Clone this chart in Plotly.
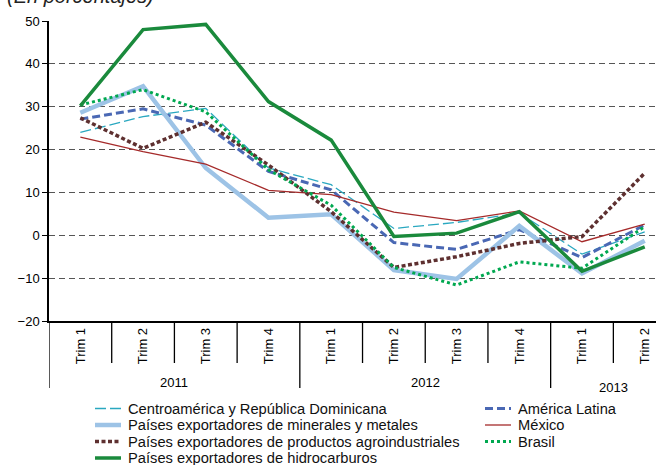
import plotly.graph_objects as go

# quarters 2011 T1 .. 2013 T2
trims = ["Trim 1", "Trim 2", "Trim 3", "Trim 4",
         "Trim 1", "Trim 2", "Trim 3", "Trim 4",
         "Trim 1", "Trim 2"]
years = ["2011", "2012", "2013"]
year_span = [(0, 3), (4, 7), (8, 9)]

centroamerica = [24.0, 27.7, 29.6, 15.7, 11.8, 1.6, 3.0, 5.2, -4.4, 0.8]
america_latina = [27.1, 29.5, 25.7, 14.9, 10.6, -1.7, -3.3, 1.3, -5.2, 2.4]
minerales = [28.6, 34.8, 15.7, 4.1, 4.9, -8.1, -10.2, 2.2, -8.9, -1.3]
mexico = [22.9, 19.5, 16.6, 10.5, 9.5, 5.4, 3.4, 5.7, -1.5, 2.6]
agro = [27.4, 20.3, 26.4, 16.4, 5.5, -7.5, -5.0, -1.9, -0.3, 14.5]
brasil = [30.4, 34.0, 28.8, 15.3, 7.0, -7.5, -11.6, -6.2, -7.7, 2.0]
hidrocarburos = [30.2, 48.0, 49.2, 31.2, 22.2, -0.3, 0.5, 5.5, -8.4, -2.7]

x = list(range(len(trims)))

W, H = 656, 465
L, R, T, B = 49, 0, 21, 144
PW, PH = W - L - R, H - T - B

def px(v):
    return (v - L) / PW

def py(v):
    return (H - B - v) / PH

fig = go.Figure()
shapes = []
annotations = []

# (name, values, color, width, dash, legend column, legend row)
series = [
    ("Centroamérica y República Dominicana", centroamerica, '#2aa8c0', 1.3, '11px,4px', 0, 0),
    ("América Latina", america_latina, '#4a68b4', 3, '8px,4px', 1, 0),
    ("Países exportadores de minerales y metales", minerales, '#9dc3e6', 4.5, 'solid', 0, 1),
    ("México", mexico, '#a52a2a', 1.3, 'solid', 1, 1),
    ("Países exportadores de productos agroindustriales", agro, '#5e3030', 3.5, '4px,2.5px', 0, 2),
    ("Brasil", brasil, '#00a850', 3, 'dot', 1, 2),
    ("Países exportadores de hidrocarburos", hidrocarburos, '#1a8a3c', 3.5, 'solid', 0, 3),
]

col_x = [95, 485]
row_y = [408.5, 425, 441.5, 458]

for name, vals, color, width, dash, col, row in series:
    fig.add_trace(go.Scatter(
        x=x, y=vals, name=name, mode='lines',
        line=dict(color=color, width=width, dash=dash),
        hoverinfo='skip', showlegend=False
    ))
    # legend entry drawn by hand: short sample line + label
    x0 = col_x[col]
    shapes.append(dict(type='line', xref='paper', yref='paper',
                       x0=px(x0), x1=px(x0 + 26), y0=py(row_y[row]), y1=py(row_y[row]),
                       line=dict(color=color, width=width, dash=dash)))
    annotations.append(dict(text=name, xref='paper', yref='paper',
                            x=px(x0 + 32), y=py(row_y[row]), xanchor='left', yanchor='middle',
                            showarrow=False, borderpad=0, font=dict(size=14.7, color='#111')))

# small boundary ticks between quarters
for b in [0.5, 1.5, 2.5, 4.5, 5.5, 6.5, 8.5]:
    shapes.append(dict(type='line', xref='x', yref='paper', x0=b, x1=b,
                       y0=0, y1=py(363), line=dict(color='black', width=1.3)))
# longer separators between years
for b in [-0.5, 3.5, 7.5]:
    shapes.append(dict(type='line', xref='x', yref='paper', x0=b, x1=b,
                       y0=0, y1=py(388), line=dict(color='black', width=1.3)))

for yr, (a, b) in zip(years, year_span):
    annotations.append(dict(
        text=yr, x=(a + b) / 2, xref='x', y=py(382) if yr != "2013" else py(387),
        yref='paper', showarrow=False, yanchor='middle',
        font=dict(size=13, color='black')
    ))

annotations.append(dict(
    text="<i>(En porcentajes)</i>", x=px(6), xref='paper', xanchor='left',
    y=py(8.5), yref='paper', yanchor='bottom', showarrow=False, borderpad=0,
    font=dict(size=20, color='#222')
))

fig.update_layout(
    width=W, height=H,
    margin=dict(l=L, r=R, t=T, b=B, autoexpand=False),
    paper_bgcolor='white', plot_bgcolor='white',
    font=dict(family='Liberation Sans, Arial', size=13, color='black'),
    shapes=shapes,
    annotations=annotations,
    xaxis=dict(
        range=[-0.5, 9.18], tickmode='array', tickvals=x, ticktext=trims,
        tickangle=-90, showgrid=False, zeroline=False,
        showline=True, linecolor='black', linewidth=1.5, ticks='',
        tickfont=dict(size=13)
    ),
    yaxis=dict(
        range=[-20, 50], dtick=10, tick0=0, showgrid=True,
        gridcolor='#555', griddash='6px,4px', gridwidth=1,
        zeroline=False, showline=True, linecolor='black', linewidth=1.5,
        ticks='outside', ticklen=5, tickcolor='black',
        tickfont=dict(size=13)
    ),
    showlegend=False
)

fig.write_html("out.html", config=dict(displayModeBar=False),
               post_script="document.body.style.margin='0px';")
